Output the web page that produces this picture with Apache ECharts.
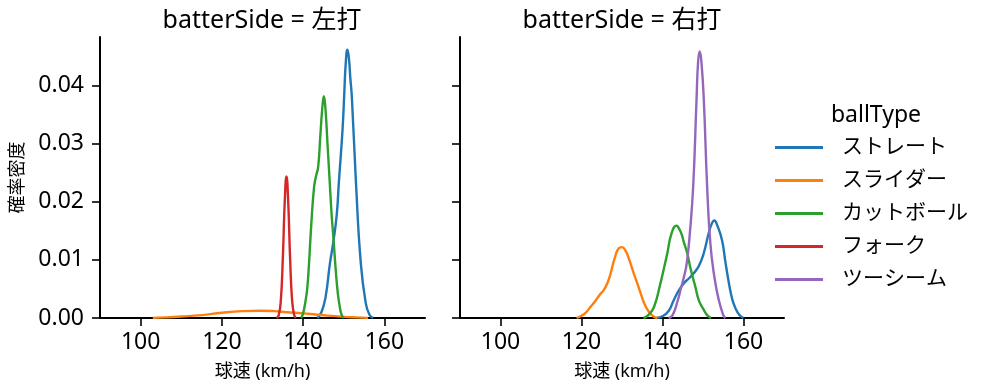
<!DOCTYPE html>
<html><head><meta charset="utf-8">
<script src="https://cdn.jsdelivr.net/npm/echarts@6/dist/echarts.min.js"></script>
<style>html,body{margin:0;padding:0;background:#fff}#c{width:997px;height:391px}</style>
</head><body><div id="c"></div>
<script>
const panelTitles = ['batterSide = 左打', 'batterSide = 右打'];
const ballTypes = ['ストレート', 'スライダー', 'カットボール', 'フォーク', 'ツーシーム'];
const colors = ['#1f77b4', '#ff7f0e', '#2ca02c', '#d62728', '#9467bd'];
const xTicks = [100, 120, 140, 160];
const yTicks = [0, 0.01, 0.02, 0.03, 0.04];

// Left panel (左打)
const leftStraight = [[143.5,0],[144.5,0.001],[145.5,0.0035],[146.6,0.0094],[147.5,0.0134],[148.3,0.018],[148.8,0.0234],[149.7,0.0324],[150.1,0.0382],[150.5,0.044],[150.9,0.0462],[151.3,0.0445],[151.6,0.0415],[152,0.038],[153,0.0234],[154.2,0.0094],[155.4,0.0026],[156.3,0.0006],[157.2,0]];
const leftSlider = [[103,0.00003],[106,0.0001],[110,0.00025],[115,0.0005],[120,0.0009],[125,0.00118],[129.5,0.00126],[133,0.00118],[136,0.001],[140,0.0008],[143,0.0006],[146,0.0004],[150,0.0002],[153,0.0001],[156,0.00003]];
const leftCutter = [[139.5,0],[140,0.0008],[140.6,0.003],[141,0.005],[141.4,0.0088],[142,0.016],[142.7,0.0226],[143.2,0.0245],[143.7,0.026],[144.2,0.031],[144.7,0.036],[145.1,0.0382],[145.5,0.036],[146,0.030],[146.5,0.024],[147,0.018],[147.5,0.0134],[148,0.0085],[148.5,0.0045],[149,0.002],[149.5,0.0005],[150,0]];
const leftFork = [[133.5,0],[134,0.0005],[134.5,0.0029],[135,0.0102],[135.5,0.0205],[135.9,0.0244],[136.3,0.0205],[136.8,0.0102],[137.3,0.0029],[137.8,0.0005],[138.2,0]];

// Right panel (右打)
const rightStraight = [[138.5,0],[140,0.0003],[141.5,0.0012],[142.8,0.0031],[144,0.0047],[145.3,0.006],[146.5,0.0068],[147.7,0.0077],[149,0.009],[150.2,0.0112],[151.4,0.0146],[152.2,0.0163],[152.8,0.0168],[153.5,0.016],[154.7,0.0134],[155.5,0.0098],[156.4,0.006],[157.2,0.0033],[158,0.0017],[159,0.0005],[160,0]];
const rightSlider = [[118.8,0],[120,0.0004],[121,0.0009],[122.2,0.0019],[123.5,0.003],[124.5,0.004],[125.5,0.0048],[126.5,0.0062],[127.2,0.0077],[128.2,0.0103],[129.2,0.012],[130,0.0122],[130.8,0.0117],[131.8,0.01],[132.9,0.0077],[134.6,0.0043],[135.5,0.0025],[136.6,0.0011],[137.7,0.0003],[138.7,0]];
const rightCutter = [[135.3,0],[136.5,0.0005],[137.9,0.0019],[139.5,0.006],[140.5,0.009],[141.2,0.0112],[142.2,0.0145],[143.4,0.0159],[144.5,0.0148],[145.3,0.013],[146.1,0.0112],[147,0.0083],[148.1,0.0054],[149,0.003],[150.2,0.0014],[151,0.0005],[152,0]];
const rightTwoSeam = [[141.5,0],[142.5,0.0005],[143.8,0.0031],[144.5,0.005],[145.3,0.0071],[146,0.0095],[146.8,0.015],[147.6,0.023],[148.4,0.0376],[148.8,0.0442],[149.2,0.0459],[149.6,0.0442],[150.2,0.0376],[151,0.023],[151.8,0.013],[152.8,0.0071],[153.9,0.0031],[155,0.0005],[155.5,0]];

const FONT = '"Noto Sans", "Noto Sans CJK JP", sans-serif';
const X_MIN = 90, X_MAX = 170, Y_MAX = 0.0484;

function mkX(idx){
  return {type:'value', gridIndex: idx, min:X_MIN, max:X_MAX,
    name:'球速 (km/h)', nameLocation:'middle', nameGap:45,
    nameTextStyle:{fontFamily:FONT, fontSize:18, color:'#000'},
    splitLine:{show:false},
    axisLine:{show:true, onZero:false, lineStyle:{color:'#000', width:2}},
    axisTick:{show:true, length:8, lineStyle:{color:'#000', width:1.6}, customValues:xTicks},
    axisLabel:{fontFamily:FONT, fontSize:23, color:'#000', margin:13, customValues:xTicks}};
}
function mkY(idx, labels){
  return {type:'value', gridIndex: idx, min:0, max:Y_MAX,
    name: labels ? '確率密度' : '', nameLocation:'middle', nameGap:73,
    nameTextStyle:{fontFamily:FONT, fontSize:18, color:'#000'},
    splitLine:{show:false},
    axisLine:{show:true, lineStyle:{color:'#000', width:2}},
    axisTick:{show:true, length:8, lineStyle:{color:'#000', width:1.6}, customValues:yTicks},
    axisLabel:{show:labels, fontFamily:FONT, fontSize:23, color:'#000', margin:16, customValues:yTicks,
      formatter: v => v.toFixed(2)}};
}
function mkS(name, data, idx){
  const c = colors[ballTypes.indexOf(name)];
  return {type:'line', name, data, xAxisIndex:idx, yAxisIndex:idx, showSymbol:false, symbol:'none',
    smooth:0.5, lineStyle:{color:c, width:2.4}, itemStyle:{color:c}, z: 2};
}

const chart = echarts.init(document.getElementById('c'), null, {renderer:'canvas'});
chart.setOption({
  backgroundColor:'#fff',
  animation:false,
  color: colors,
  grid:[{left:100, top:37, width:325, bottom:73, containLabel:false, outerBoundsMode:'none'},
        {left:460, top:37, width:324, bottom:73, containLabel:false, outerBoundsMode:'none'}],
  xAxis:[mkX(0), mkX(1)],
  yAxis:[mkY(0,true), mkY(1,false)],
  legend:{data:ballTypes, orient:'vertical', left:770, top:132, itemGap:12, itemWidth:48, itemHeight:25,
    icon:'path://M0,11 L48,11 L48,14 L0,14 Z',
    textStyle:{fontFamily:FONT, fontSize:21, color:'#000', padding:[0,0,0,14]}},
  graphic:[
    {type:'text', style:{text:panelTitles[0], x:262, y:21, textAlign:'center', textVerticalAlign:'middle', font:'25px '+FONT, fill:'#000'}},
    {type:'text', style:{text:panelTitles[1], x:622, y:21, textAlign:'center', textVerticalAlign:'middle', font:'25px '+FONT, fill:'#000'}},
    {type:'text', style:{text:'ballType', x:876, y:115, textAlign:'center', textVerticalAlign:'middle', font:'23px '+FONT, fill:'#000'}}
  ],
  series:[
    mkS('ストレート', leftStraight, 0),
    mkS('スライダー', leftSlider, 0),
    mkS('カットボール', leftCutter, 0),
    mkS('フォーク', leftFork, 0),
    mkS('ストレート', rightStraight, 1),
    mkS('スライダー', rightSlider, 1),
    mkS('カットボール', rightCutter, 1),
    mkS('ツーシーム', rightTwoSeam, 1)
  ]
});
</script></body></html>
